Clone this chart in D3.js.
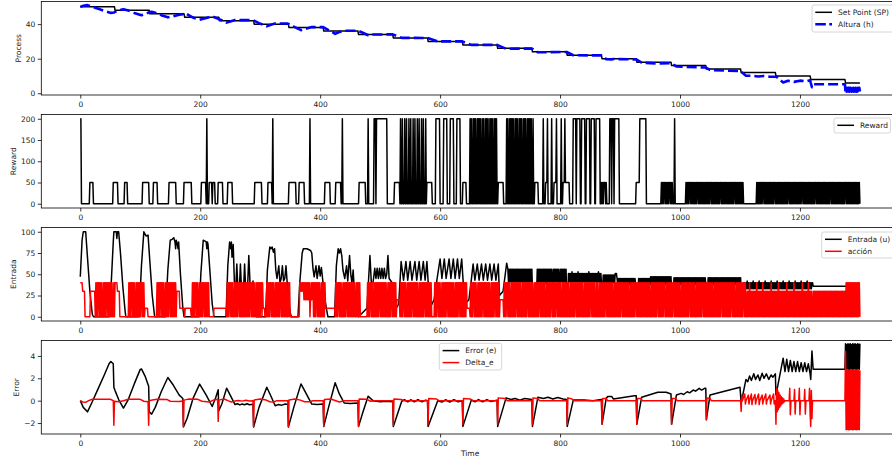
<!DOCTYPE html>
<html><head><meta charset="utf-8">
<script src="https://cdn.jsdelivr.net/npm/d3@7"></script>
<style>
body{margin:0;background:#fff;overflow:hidden}
svg{display:block}
text{font-family:"DejaVu Sans",sans-serif}
</style>
</head><body>
<svg id="chart" width="892" height="461"></svg>
<script>
// ---------------- DATA ----------------
const xTicks = [0, 200, 400, 600, 800, 1000, 1200];
const processTicks = [0, 20, 40];
const rewardTicks = [0, 50, 100, 150, 200];
const entradaTicks = [0, 25, 50, 75, 100];
const errorTicks = [-2, 0, 2, 4];
const errorTickLabels = ["\u22122", "0", "2", "4"];
const tEnd = 1300;

// Set point: [time of change, new level]
const spChanges = [[0,50],[58,48],[116,46],[174,44],[232,42],[290,40],[348,38],[406,36],[464,34],[522,32],[580,30],[638,28],[696,26],[754,24],[812,22],[870,20],[928,18],[986,16],[1044,14],[1102,12],[1160,10],[1218,8],[1276,6]];

// Altura h: [time, value]
const alturaKeys = [[0,50],[5,50.6],[12,51],[20,50.1],[30,48.9],[40,47.7],[51,46.5],[56,46.7],
[58,47.1],[64,47.9],[72,48.66],[80,47.9],[90,46.5],[102,45.16],[108,45.8],[114,46.7],
[119,47.2],[125,46.6],[135,45.2],[146,43.93],[155,44.6],[165,45.5],[171,45.8],
[176,46.2],[188,43.8],[199,42.52],[210,43.5],[220,44.52],[230,43.03],
[236,42.3],[244,40.88],[250,41.5],[258,42.35],[288,42.32],
[298,40.6],[311,38.8],[318,39.6],[325,40.45],[346,40.35],
[356,38.6],[368,36.5],[376,37.3],[386,38.3],[405,38.3],
[414,36.6],[425,34.4],[432,35.4],[440,36.2],[463,36.2],
[472,34.9],[480,33.6],[488,34.0],[521,34.1],
[536,32.05],[579,32.0],[596,30.0],[637,30.0],[652,28.0],[695,28.0],
[710,25.75],[753,25.9],[763,23.7],[811,23.9],[822,22.0],[869,21.9],
[877,19.77],[886,19.62],[889,19.85],[927,19.55],
[936,17.7],[963,17.25],[985,17.4],
[994,15.5],[1043,14.9],
[1050,13.5],[1100,12.8],
[1103,12.2],[1110,10.1],[1120,10.2],[1130,9.7],[1140,10.0],[1150,9.6],[1159,9.6],
[1161,9.5],[1172,6.2],[1180,7.2],[1190,6.6],[1200,7.3],[1210,6.9],[1217,7.6],
[1218,6.1],[1220,3.55],[1222,5.19],[1275,5.19],
[1276,1.0],[1277,3.2],[1278,0.9],[1279,3.1],[1280,1.0],[1281,3.2],[1282,0.9],[1283,3.2],[1284,1.0],[1285,3.1],[1286,0.9],[1287,3.2],[1288,1.0],[1289,3.2],[1290,0.9],[1291,3.1],[1292,1.0],[1293,3.2],[1294,0.9],[1295,3.2],[1296,1.0],[1297,3.1],[1298,0.9],[1299,3.2],[1300,1.0]];

// Reward: [start time, per-step codes] ; code -> rewardLevels ; last code held until next start
const rewardLevels = [0, 50, 200];
const rewardSegments = [
[0,"22"],[2,"0"],[16,"1"],[22,"0"],[55,"1"],[63,"0"],[74,"1"],[79,"0"],[104,"1"],[115,"0"],[122,"1"],[129,"0"],[148,"1"],[160,"0"],[173,"1"],[186,"0"],[202,"1"],[210,"0"],[211,"2"],[212,"0"],[215,"1"],[220,"0"],[221,"1"],[225,"0"],[230,"1"],[238,"0"],[246,"1"],[254,"0"],[291,"1"],[303,"0"],[313,"1"],[320,"0"],[321,"2"],[322,"0"],[348,"1"],[360,"0"],[365,"1"],[374,"0"],[383,"2"],[384,"0"],[408,"1"],[417,"0"],[426,"1"],[435,"0"],[437,"2"],[438,"0"],[465,"1"],[476,"0"],[480,"2"],[481,"0"],[490,"2"],[493,"0"],[494,"2"],[512,"0"],[524,"1"],
[533,"0200200020020002002000200200020020002002000200"],
[578,"1"],[587,"0"],[593,"2"],[600,"0"],[606,"2"],[612,"0"],[617,"2"],[623,"0"],[628,"2"],[634,"0"],[638,"1"],[644,"0"],
[650,"2020020202002020202002020020202002020200202020"],
[696,"0"],[697,"1"],[706,"0"],
[711,"202002020202002020200202020020202002020202002"],
[756,"0"],[758,"1"],[764,"0"],[772,"2"],[773,"0"],[776,"1"],[779,"2"],[780,"0"],[786,"2"],[787,"0"],[790,"1"],[794,"2"],[795,"0"],[802,"2"],[803,"0"],[805,"1"],[808,"2"],[809,"1"],[816,"0"],
[822,"2"],[827,"0"],[828,"2"],[834,"0"],[836,"2"],[842,"0"],[844,"2"],[850,"0"],[852,"2"],[858,"0"],[860,"2"],[867,"0"],
[869,"101011101"],[878,"0"],[883,"2"],[886,"0"],[887,"2"],[890,"0"],[891,"2"],[899,"0"],[927,"1"],[933,"2"],[944,"0"],
[969,"1010110101010110101"],[988,"0"],[991,"2"],[992,"0"],
[1010,"1010101101010101010110101010101010101010110101010101010101101010101010101010101011010101010101010101"],
[1107,"0"],
[1128,"10101010101101010101010101010110101010101010101010101101010101010101010101011010101010101010101010110101010101010101010101011010101010101010101010101101010101010101010101010101"]];

// Entrada u: key points, then dense stretches as two-digit per-step values
const entradaKeys = [[0,47],[3,90],[5,100],[9,100],[12,70],[16,30],[20,3],[22,0],
[48,0],[52,45],[55,88],[56,100],[60,100],[61,92],[62,100],[64,100],[67,75],[71,35],[75,5],[76,0],
[98,0],[102,60],[106,100],[108,97],[110,95],[113,96],[116,65],[120,25],[124,0],
[142,0],[146,55],[150,90],[153,91],[156,93],[158,88],[159,80],[160,90],[162,85],[163,80],[164,88],[167,50],[171,10],[173,0],
[198,0],[201,50],[205,90],[208,89],[210,88],[211,80],[212,88],[213,85],[216,55],[220,15],[223,0],
[243,0],[246,60],[249,88],[251,80],[252,88],[253,70],[255,85],[257,40],[259,28],[261,62],[263,30],[265,28],[267,62],[269,30],[272,28],[274,62],[276,30],[279,35],[281,72],[283,40],[286,30],[288,42],[290,15],[294,0],
[309,0],[312,55],[316,82],[318,80],[320,82],[322,76],[324,80],[326,55],[328,45],[331,60],[333,40],[335,45],[337,60],[339,42],[341,45],[343,60],[346,30],[350,5],[352,0],
[363,0],[366,40],[370,75],[372,80],[378,80],[384,78],[386,75],[388,57],[390,47],[393,60],[395,45],[398,60],[400,48],[402,58],[404,45],[408,20],[412,3],[413,0],
[424,0],[427,60],[430,80],[432,75],[434,80],[436,72],[438,55],[441,45],[444,60],[446,42],[449,72],[451,50],[453,40],[455,55],[457,30],[461,10],[464,0],
[478,10],[483,72],[486,30],[489,45],[491,57],[493,45],[495,57],[497,45],[499,57],[501,45],[503,57],[505,45],[507,57],[509,45],[511,50],[513,72],[515,45],[520,40],[525,20],[527,10],[531,15],
[535,65],[539,43],[543,65],[546,43],[550,65],[553,43],[558,65],[561,43],[565,65],[568,43],[572,65],[575,43],[578,65],[581,30],[585,13],[590,20],[595,45],
[600,68],[603,45],[607,68],[610,45],[615,68],[618,45],[622,68],[625,45],[629,68],[632,45],[636,68],[639,35],[644,17],[648,20],[652,43],
[655,62],[658,43],[662,62],[665,43],[669,62],[672,43],[676,62],[679,43],[683,62],[686,43],[690,62],[693,43],[697,62],[699,25],[705,30],[711,63]];
const entradaDense = [
[713,"5641564156415641564156415641564156415641564156415641564156415641564156415641564156"],
[754,"30"],
[762,"564156415641564156415641564156"],
[777,"38"],
[778,"56415641564156415641"],
[788,"38"],
[789,"56415641564156415641"],
[799,"38"],
[800,"5641564156415641564156"],
[811,"25"],
[814,"5141514151415341514151415141514153415141514151415141514151415141514153415141514151415141514151415141534151415141"],
[870,"30"],
[872,"494049404940494049404940494049404940494051"],
[895,"4538453845384538453845384538453845384538453845384538453845384538"],
[927,"30"],
[931,"4538453845384538453845384538453845384538"],
[951,"473847384738473847384738473847384738473847384738473847384738473847384738"],
[986,"30"],
[990,"463846384638463846384638463846384638463846384638463846384638463846384638463846384638463846384638463846384638"],
[1044,"30"],
[1047,"46384638463846384638463846384638463846384638463846384638463846384638463846384638463846384638463846384638463846384638"],
[1102,"30"],
[1106,"40334033403342334033403340334033423340334033403340334233403340334033403342334033403340334033423340334033403340334233403340334033403342334033403340334033423340334033403340334233403340334033403342334033403340334033423340334033403340"],
[1222,"36"],
[1300,"36"]];

// Accion: [start time, per-step codes] ; code -> actionLevels
const actionLevels = [0, 10, 20, 30, 40];
const actionSegments = [
[0,"4"],[4,"3"],[8,"0"],[17,"3"],
[25,"040404404040040404044040404040040404"],
[58,"4"],[62,"3"],[66,"0"],
[80,"0404044040400404040404404040400404"],
[108,"1"],[113,"0"],
[127,"04040404404040040404044040404040404004"],
[161,"3"],[166,"1"],[174,"0"],[175,"1"],[185,"0"],
[186,"040404404040040404044040404040404"],
[216,"0"],[223,"1"],
[244,"0404044040400404040440404040040404040404404040400404040404404040"],
[305,"1"],[308,"0"],
[310,"04040404404040040404040440404040404004040"],
[350,"0"],
[366,"4343434242424242402424"],
[389,"04040440404004040404"],
[409,"1"],
[425,"040404404040040404044040404040404004040404"],
[467,"0"],
[478,"04040440404004040404044040404040400404040440404040"],
[528,"2"],
[533,"040404404040040404040440404040400404040404404040404040"],
[587,"0"],
[590,"04040440404004040404044040404040400404040440404040404040"],
[645,"1"],
[650,"04040440404004040404044040404040400404040440404040"],
[700,"2"],
[706,"0404044040400404040404404040400404040404404040404004040404044040404040040404040440404040440404040040404040404004040404044040404040404004040404040440404040040400404040404044040404040400404040404040440404040404040040404040440404040404040404040404004040404040440404040404400404040404040440404040404004040404040404404040404004040404040440404040404040404004040404040404404040404040404044040400404040404040440404040404004040404040404"],
[1111,"0303040303030303040303030304030303030303040303030303040303030303030403030303030403030303030304030303030403030303030403030303"],
[1222,"030303030303030303030303030303030303030303030303030303030"],
[1276,"0404040404040404040404040"]];

// Error e: [time, value]
const errorKeys = [[0,0],[5,-0.6],[12,-1.0],[20,-0.1],[30,1.1],[40,2.3],[48,3.3],[51,3.5],[55,3.3],[56,1.2],[58,0.9],[64,0.1],[72,-0.66],[80,0.1],[90,1.5],[100,2.8],[102,2.84],[108,2.2],[114,1.3],[115,-1.0],[119,-1.2],[125,-0.6],[135,0.8],[146,2.07],[155,1.4],[165,0.5],[171,0.2],[172,-2.35],[178,-1.6],[188,0.2],[199,1.48],[210,0.5],[220,-0.52],[226,0.3],[230,0.97],[231,-0.9],[236,-0.3],[244,1.12],[250,0.5],[258,-0.35],[262,-0.28],[266,-0.38],[270,-0.3],[274,-0.36],[278,-0.28],[282,-0.36],[288,-0.32],[289,-2.35],[298,-0.6],[311,1.2],[318,0.4],[325,-0.45],[330,-0.35],[336,-0.4],[342,-0.3],[346,-0.35],[347,-2.35],[356,-0.6],[368,1.5],[376,0.7],[386,-0.3],[395,-0.35],[405,-0.3],[406,-2.3],[414,-0.6],[425,1.6],[432,0.6],[440,-0.2],[450,-0.25],[463,-0.2],[464,-2.3],[472,-0.9],[480,0.4],[488,0.0],[500,-0.1],[510,-0.05],[521,-0.1],[522,-2.3],[536,-0.05],[541,0.08],[546,-0.1],[551,0.08],[557,-0.1],[563,0.08],[570,-0.1],[576,0.05],[579,0],[580,-2.3],[596,0],[603,-0.12],[609,0.08],[616,-0.12],[623,0.08],[630,-0.1],[637,0],[638,-2.3],[652,0.05],[658,-0.1],[664,0.1],[671,-0.1],[678,0.1],[685,-0.08],[695,0.05],[696,-2.3],[710,0.25],[718,0.1],[725,0.2],[733,0.05],[741,0.2],[753,0.1],[754,-2.3],[763,0.3],[772,0.2],[780,0.3],[788,0.15],[796,0.28],[805,0.15],[811,0.1],[812,-2.3],[822,0.05],[840,0.05],[855,0.0],[869,0.1],[870,-2.1],[877,0.23],[880,0.38],[886,0.38],[889,0.15],[924,0.45],[927,0.45],[928,-2.1],[936,0.3],[963,0.75],[977,0.75],[985,0.6],[986,-2.1],[994,0.5],[1002,0.65],[1006,0.55],[1012,0.8],[1016,0.7],[1022,0.95],[1026,0.85],[1032,1.1],[1036,0.95],[1041,1.1],[1043,1.1],[1044,-1.7],[1050,0.5],[1100,1.2],[1102,-0.2],[1110,1.9],[1113,1.7],[1116,2.2],[1119,1.8],[1123,2.4],[1126,1.9],[1130,2.3],[1133,1.8],[1137,2.45],[1140,2.0],[1144,2.4],[1148,1.9],[1152,2.3],[1155,2.1],[1159,2.4],[1160,0.5],[1172,3.8],[1175,2.6],[1178,3.7],[1181,2.6],[1184,3.6],[1187,2.6],[1190,3.5],[1193,2.6],[1196,3.5],[1199,2.6],[1202,3.4],[1205,2.6],[1208,3.4],[1211,2.6],[1214,3.3],[1217,2.4],[1218,1.9],[1220,4.45],[1222,2.81],[1275,2.81],
[1276,5.1],[1277,2.8],[1278,5.0],[1279,2.85],[1280,5.1],[1281,2.8],[1282,5.05],[1283,2.8],[1284,5.1],[1285,2.85],[1286,5.0],[1287,2.8],[1288,5.1],[1289,2.8],[1290,5.05],[1291,2.85],[1292,5.1],[1293,2.8],[1294,5.0],[1295,2.8],[1296,5.1],[1297,2.85],[1298,5.05],[1299,2.8],[1300,5.1]];

// Delta_e: [time, value]
const deltaKeys = [[0,0],[4,-0.12],[9,-0.15],[14,0.0],[20,0.13],[50,0.13],[55,0.0],[56,-2.2],[57,-0.05],[64,-0.1],[72,0.0],[80,0.12],[100,0.12],[106,-0.05],[113,-0.1],[114,-2.2],[115,0.0],[120,0.05],[128,0.13],[145,0.1],[150,-0.05],[165,-0.08],[171,-0.02],[172,-2.3],[173,0.05],[180,0.14],[196,0.12],[203,-0.05],[215,-0.12],[222,0.05],[229,0.12],[230,-1.85],[231,0.05],[240,0.15],[246,0.0],[252,-0.12],[258,-0.02],[264,0.02],[270,-0.04],[276,0.03],[282,-0.03],[288,0.0],[289,-2.3],[290,0.05],[300,0.15],[310,0.05],[316,-0.1],[322,-0.12],[328,0.0],[346,0.0],[347,-2.3],[348,0.05],[358,0.15],[367,0.05],[374,-0.1],[382,-0.1],[388,0.0],[405,0.0],[406,-2.3],[407,0.1],[418,0.15],[426,0.0],[432,-0.12],[440,0.0],[463,0.0],[464,-2.3],[465,0.15],[478,0.12],[484,-0.05],[490,0.0],[521,0.0],[522,-2.2],[523,0.15],[535,0.1],[540,0.0],[579,0.0],[580,-2.1],[581,0.2],[594,0.15],[598,0.0],[637,0.0],[638,-2.1],[639,0.2],[650,0.15],[655,0.0],[695,0.0],[696,-2.1],[697,0.25],[708,0.2],[712,0.0],[753,0.0],[754,-2.1],[755,0.25],[762,0.2],[766,0.0],[811,0.0],[812,-2.1],[813,0.25],[820,0.15],[824,0.0],[869,0],[870,-2.1],[871,0.2],[877,0.2],[879,0],[927,0],[928,-2.1],[929,0.2],[935,0.2],[937,0],[985,0],[986,-2.1],[987,0.2],[993,0.2],[995,0],[1043,0],[1044,-1.7],[1045,0.25],[1050,0.2],[1052,0],[1101,0],[1102,-0.96],[1103,0.5],[1104,0],[1108,0.6],[1109,-0.3],[1110,0],[1114,0.5],[1115,-0.3],[1116,0],[1119,0.6],[1120,-0.35],[1121,0],[1125,0.55],[1126,-0.3],[1127,0],[1131,0.6],[1132,-0.35],[1133,0],[1137,0.5],[1138,-0.3],[1139,0],[1143,0.6],[1144,-0.3],[1145,0],[1150,0.5],[1151,-0.3],[1152,0],[1156,0.6],[1157,-0.3],[1158,0],[1159,0],[1160,-2.1],[1161,1.1],[1162,-1.0],[1163,0.9],[1164,-0.8],[1165,0.7],[1166,-0.6],[1167,0.5],[1168,-0.45],[1169,0.35],[1170,-0.3],[1171,0.25],[1172,-0.2],[1173,0.15],[1174,-0.1],[1175,0],[1182,0],[1183,1.1],[1184,-1.25],[1185,0],[1190,0],[1191,1.0],[1192,-1.2],[1193,0],[1198,0],[1199,1.1],[1200,-1.25],[1201,0],[1207,0],[1208,1.0],[1209,-1.2],[1210,0],[1215,0],[1216,1.1],[1217,-1.25],[1218,-2.3],[1219,0.9],[1220,-1.6],[1221,0],[1275,0],
[1276,4.4],[1277,-2.6],[1278,2.7],[1279,-2.55],[1280,2.75],[1281,-2.6],[1282,2.7],[1283,-2.6],[1284,2.75],[1285,-2.55],[1286,2.7],[1287,-2.6],[1288,2.75],[1289,-2.6],[1290,2.7],[1291,-2.55],[1292,2.75],[1293,-2.6],[1294,2.7],[1295,-2.6],[1296,2.75],[1297,-2.55],[1298,2.7],[1299,-2.6],[1300,2.7]];

// ---------------- helpers ----------------
function heldChanges(changes, end) {
  const pts = [];
  changes.forEach((c, i) => {
    if (i > 0) { const p = changes[i - 1]; if (c[0] - 1 > p[0]) pts.push([c[0] - 1, p[1]]); }
    pts.push([c[0], c[1]]);
  });
  const last = changes[changes.length - 1];
  if (end > last[0]) pts.push([end, last[1]]);
  return pts;
}
function codedSegments(segs, decode, end) {
  const pts = [];
  segs.forEach((s, i) => {
    const next = i < segs.length - 1 ? segs[i + 1][0] : end + 1;
    const vals = decode(s[1]);
    let lastV = vals[0], lastT = s[0];
    for (let j = 0; j < vals.length; j++) {
      const t = s[0] + j;
      if (t >= next) break;
      lastV = vals[j]; lastT = t;
      pts.push([t, lastV]);
    }
    if (next - 1 > lastT) pts.push([next - 1, lastV]);
  });
  return pts;
}
const decodeWith = levels => str => str.split("").map(ch => levels[+ch]);
const decodeTwoDigit = str => str.match(/../g).map(Number);

const spPoints = heldChanges(spChanges, tEnd);
const rewardPoints = codedSegments(rewardSegments, decodeWith(rewardLevels), tEnd);
const actionPoints = codedSegments(actionSegments, decodeWith(actionLevels), tEnd);
const entradaPoints = entradaKeys.concat(codedSegments(entradaDense, decodeTwoDigit, tEnd));

// ---------------- layout ----------------
const svg = d3.select("#chart");
const FS = 7.5;
const x = d3.scaleLinear().domain([-65, 1365]).range([41.3, 898.9]);
const panelTop = [1.5, 114.5, 227.5, 340.5];
const panelH = 93.5;

const panels = [
  {label: "Process", labelX: 18.3, domain: [-1, 53.1], ticks: processTicks, fmt: d => d,
   series: [{pts: spPoints, color: "#000", w: 1.5}, {pts: alturaKeys, color: "#0000ff", w: 2.6, dash: "10,4"}],
   legend: {x: 812, y: 5, w: 92, h: 27, items: [{t: "Set Point (SP)", color: "#000", w: 1.5}, {t: "Altura (h)", color: "#0000ff", w: 2.6, dash: "10.5,3.5"}]}},
  {label: "Reward", labelX: 13.3, domain: [-10, 210], ticks: rewardTicks, fmt: d => d,
   series: [{pts: rewardPoints, color: "#000", w: 1.5}],
   legend: {x: 834, y: 118, w: 56.5, h: 15, items: [{t: "Reward", color: "#000", w: 1.5}]}},
  {label: "Entrada", labelX: 13.3, domain: [-5, 105], ticks: entradaTicks, fmt: d => d,
   series: [{pts: entradaPoints, color: "#000", w: 1.5}, {pts: actionPoints, color: "#ff0000", w: 1.5}],
   legend: {x: 821.7, y: 232, w: 82, h: 26, items: [{t: "Entrada (u)", color: "#000", w: 1.5}, {t: "acción", color: "#ff0000", w: 1.5}]}},
  {label: "Error", labelX: 16.7, domain: [-2.98, 5.38], ticks: errorTicks, fmt: (d, i) => errorTickLabels[i],
   series: [{pts: errorKeys, color: "#000", w: 1.5}, {pts: deltaKeys, color: "#ff0000", w: 1.5}],
   legend: {x: 439.3, y: 343.3, w: 62.4, h: 26.7, items: [{t: "Error (e)", color: "#000", w: 1.5}, {t: "Delta_e", color: "#ff0000", w: 1.5}]}}
];

const defs = svg.append("defs");
panels.forEach((p, i) => {
  const top = panelTop[i], bottom = top + panelH;
  const y = d3.scaleLinear().domain(p.domain).range([bottom, top]);
  const g = svg.append("g");
  defs.append("clipPath").attr("id", "clip" + i).append("rect")
    .attr("x", x.range()[0]).attr("y", top).attr("width", x.range()[1] - x.range()[0]).attr("height", panelH);

  const line = d3.line().x(d => x(d[0])).y(d => y(d[1]));
  const plot = g.append("g").attr("clip-path", `url(#clip${i})`);
  p.series.forEach(s => {
    plot.append("path").attr("d", line(s.pts)).attr("fill", "none")
      .attr("stroke", s.color).attr("stroke-width", s.w)
      .attr("stroke-linejoin", "round")
      .attr("stroke-dasharray", s.dash || null);
  });

  const xa = g.append("g").attr("transform", `translate(0,${bottom})`)
    .call(d3.axisBottom(x).tickValues(xTicks).tickSize(3.5).tickPadding(3.5).tickFormat(d3.format("d")));
  const ya = g.append("g").attr("transform", `translate(${x.range()[0]},0)`)
    .call(d3.axisLeft(y).tickValues(p.ticks).tickSize(3.5).tickPadding(2.5).tickFormat(p.fmt));
  [xa, ya].forEach(a => {
    a.select(".domain").remove();
    a.selectAll("line").attr("stroke", "#000").attr("stroke-width", 0.8);
    a.selectAll("text").attr("fill", "#222").attr("font-size", FS).attr("font-family", "DejaVu Sans");
  });
  g.append("rect").attr("x", x.range()[0]).attr("y", top)
    .attr("width", x.range()[1] - x.range()[0]).attr("height", panelH)
    .attr("fill", "none").attr("stroke", "#000").attr("stroke-width", 0.8);
  g.append("text").attr("transform", `translate(${p.labelX},${top + panelH / 2}) rotate(-90)`)
    .attr("text-anchor", "middle").attr("dy", "0.35em").attr("font-size", FS).attr("fill", "#222").text(p.label);

  const L = p.legend;
  const lg = g.append("g");
  lg.append("rect").attr("x", L.x).attr("y", L.y).attr("width", L.w).attr("height", L.h)
    .attr("rx", 2).attr("fill", "#fff").attr("fill-opacity", 0.8).attr("stroke", "#cccccc").attr("stroke-width", 0.8);
  L.items.forEach((it, k) => {
    const ry = L.y + 7.3 + k * 12;
    lg.append("line").attr("x1", L.x + 3.3).attr("x2", L.x + 20).attr("y1", ry).attr("y2", ry)
      .attr("stroke", it.color).attr("stroke-width", it.w).attr("stroke-dasharray", it.dash || null);
    lg.append("text").attr("x", L.x + 26).attr("y", ry).attr("dy", "0.35em")
      .attr("font-size", FS).attr("fill", "#222").text(it.t);
  });
});

svg.append("text").attr("x", (x.range()[0] + x.range()[1]) / 2).attr("y", 453.3).attr("dy", "0.35em")
  .attr("text-anchor", "middle").attr("font-size", FS).attr("fill", "#222").text("Time");
</script>
</body></html>
